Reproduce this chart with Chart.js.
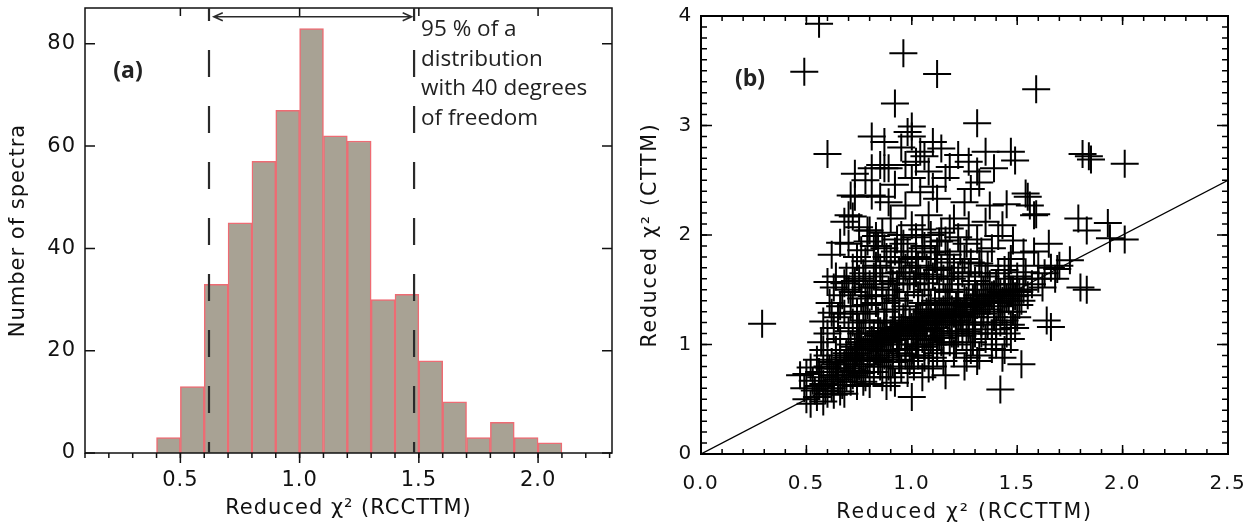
<!DOCTYPE html>
<html>
<head>
<meta charset="utf-8">
<script src="https://cdn.jsdelivr.net/npm/chart.js@4.4.1/dist/chart.umd.min.js"></script>
<style>
  html, body { margin: 0; padding: 0; background: #fff; }
  #wrap { position: relative; width: 1256px; height: 531px; }
  .panel { position: absolute; top: 0; height: 531px; }
  #left { left: 0; width: 630px; }
  #right { left: 630px; width: 626px; }
</style>
</head>
<body>
<div id="wrap">
  <div class="panel" id="left"><canvas id="hist"></canvas></div>
  <div class="panel" id="right"><canvas id="scatter"></canvas></div>
</div>
<script>
// ---------- panel (a): histogram of reduced chi2 (RCCTTM)
const binStarts = [0.4, 0.5, 0.6, 0.7, 0.8, 0.9, 1.0, 1.1, 1.2, 1.3, 1.4, 1.5, 1.6, 1.7, 1.8, 1.9, 2.0];
const binCounts = [3, 13, 33, 45, 57, 67, 83, 62, 61, 30, 31, 18, 10, 3, 6, 3, 2];
const binWidth = 0.1;
const histXTicks = [0.5, 1.0, 1.5, 2.0];
const histYTicks = [0, 20, 40, 60, 80];
const limits95 = [0.62, 1.48];
const arrowSpan = [0.64, 1.47];
const arrowLevel = 85.3;
const noteLines = ['95 % of a', 'distribution', 'with 40 degrees', 'of freedom'];

// ---------- panel (b): reduced chi2 CTTM vs RCCTTM, one [x, y] per spectrum
const fitPairs = [
  // outliers / sparse
  [0.56,3.93],[0.49,3.49],[0.96,3.66],[1.12,3.47],[1.59,3.33],[0.92,3.20],[1.31,3.02],[1.00,2.99],[0.98,2.94],
  [0.60,2.74],[1.81,2.74],[1.85,2.69],[1.84,2.72],[2.01,2.65],[0.29,1.19],[1.83,1.50],[1.80,1.52],[1.42,0.59],
  [1.00,0.52],[1.52,0.82],[1.94,1.97],[2.01,1.96],[1.93,2.11],[1.79,2.15],[1.83,2.04],[1.66,1.16],[1.64,1.22],
  [1.69,1.69],[1.75,1.77],[1.65,1.92],[1.16,0.72],[0.50,0.73],[0.60,1.57],[1.55,2.35],[1.59,2.19],[0.73,2.35],
  [0.85,2.35],[0.73,2.56],[0.87,2.61],[0.72,2.17],[0.80,2.04],[0.82,1.90],
  // upper cloud
  [0.81,2.90],[0.87,2.85],[1.00,2.90],[1.10,2.85],[1.14,2.79],[1.04,2.76],[1.22,2.73],[1.27,2.67],[1.35,2.76],
  [1.47,2.76],[1.39,2.61],[1.49,2.68],[1.31,2.58],[1.32,2.48],[0.81,2.61],[0.89,2.61],[0.85,2.64],[0.97,2.64],
  [1.02,2.67],[1.08,2.58],[1.16,2.52],[1.00,2.52],[0.71,2.36],[0.81,2.36],[1.54,2.38],[1.56,2.27],[1.58,2.18],
  [1.37,2.27],[1.25,2.30],[1.12,2.33],[1.04,2.39],[0.97,2.27],[0.89,2.30],[0.70,2.18],[0.75,2.07],[0.79,2.04],
  [0.83,1.99],[0.68,2.12],[1.08,2.18],[1.20,2.15],[1.27,2.09],[1.43,2.09],[1.31,1.96],[1.41,1.99],[1.14,2.02],
  [1.00,2.09],[0.93,1.96],[1.53,1.84],[1.60,1.72],[1.54,1.66],[1.47,1.78],[1.06,2.72],[0.95,2.80],[1.18,2.62],
  [1.28,2.42],[0.92,2.46],[1.10,2.44],[0.78,2.50],[1.45,2.28],[1.35,2.12],[1.22,1.98],[1.05,2.05],[0.90,2.15],
  [0.66,1.93],[0.62,1.82],[1.48,1.95],[1.58,1.85],[1.38,1.88],
  // dense core, x < 0.65
  [0.47,0.72],[0.50,0.50],[0.52,0.46],[0.55,0.52],[0.58,0.48],[0.49,0.60],[0.53,0.67],[0.56,0.75],[0.60,0.55],
  [0.58,0.64],[0.62,0.60],[0.55,0.86],[0.60,0.90],[0.57,1.02],[0.60,1.10],[0.58,1.21],[0.61,1.38],[0.62,1.29],
  [0.63,1.52],[0.58,0.95],[0.52,0.79],[0.63,0.72],[0.64,0.82],[0.65,0.68],[0.66,0.57],[0.67,0.63],[0.64,0.95],
  [0.66,1.05],[0.63,1.15],[0.65,1.25],[0.67,1.45],[0.64,1.62],[0.66,1.35],[0.54,0.58],[0.61,0.78],[0.68,0.55],
  // 0.65 - 0.8
  [0.68,0.75],[0.70,0.85],[0.72,0.72],[0.69,0.92],[0.71,1.00],[0.73,0.90],[0.74,1.05],[0.70,1.12],[0.72,1.20],
  [0.75,1.15],[0.68,1.28],[0.71,1.35],[0.74,1.30],[0.76,1.42],[0.70,1.50],[0.73,1.58],[0.77,1.65],[0.72,1.70],
  [0.69,1.62],[0.75,0.80],[0.78,0.70],[0.80,0.64],[0.77,0.95],[0.79,1.00],[0.76,1.10],[0.80,1.20],[0.78,1.28],
  [0.79,1.45],[0.80,1.55],[0.78,1.76],[0.76,1.86],[0.80,0.88],[0.74,0.62],[0.71,0.66],[0.73,0.98],[0.77,1.22],
  [0.70,0.78],[0.75,1.02],[0.79,1.36],
  // 0.8 - 1.0
  [0.82,0.75],[0.84,0.85],[0.83,0.95],[0.85,1.00],[0.87,0.90],[0.86,1.08],[0.88,1.15],[0.82,1.10],[0.84,1.22],
  [0.87,1.30],[0.83,1.38],[0.86,1.45],[0.89,1.50],[0.82,1.62],[0.85,1.70],[0.88,1.80],[0.84,1.90],[0.89,0.80],
  [0.90,0.70],[0.92,0.65],[0.91,0.95],[0.93,1.00],[0.90,1.05],[0.94,1.10],[0.92,1.20],[0.95,1.15],[0.96,1.25],
  [0.91,1.32],[0.94,1.40],[0.97,1.35],[0.93,1.55],[0.96,1.60],[0.90,1.65],[0.95,1.75],[0.98,1.85],[0.92,1.85],
  [0.97,0.90],[0.99,0.85],[0.98,1.05],[0.99,1.18],[0.95,0.78],[0.88,0.62],[0.85,1.12],[0.89,1.02],[0.93,1.08],
  [0.87,1.20],[0.91,1.12],[0.97,1.12],[0.84,1.04],[0.81,0.98],[0.86,0.94],[0.94,0.92],[0.92,1.42],[0.88,1.38],
  [0.98,1.48],[0.83,1.52],
  // 1.0 - 1.2
  [1.01,0.80],[1.03,0.90],[1.02,1.00],[1.05,1.05],[1.04,1.12],[1.06,1.20],[1.02,1.25],[1.07,1.30],[1.05,1.38],
  [1.03,1.45],[1.08,1.50],[1.04,1.60],[1.07,1.70],[1.02,1.80],[1.06,1.90],[1.09,2.00],[1.01,1.55],[1.08,0.95],
  [1.10,0.88],[1.12,0.92],[1.10,1.00],[1.13,1.08],[1.11,1.15],[1.14,1.20],[1.12,1.28],[1.15,1.32],[1.11,1.40],
  [1.16,1.42],[1.13,1.50],[1.17,1.55],[1.10,1.62],[1.14,1.70],[1.18,1.75],[1.12,1.85],[1.16,1.95],[1.19,1.60],
  [1.18,1.25],[1.19,1.10],[1.15,0.85],[1.08,0.78],[1.05,0.70],[1.01,1.10],[1.04,1.18],[1.07,1.08],[1.09,1.22],
  [1.06,1.14],[1.03,1.32],[1.09,1.36],[1.12,1.12],[1.15,1.18],[1.17,1.38],[1.00,0.95],[1.06,0.98],[1.14,1.02],
  [1.18,1.48],[1.02,1.65],[1.11,1.78],
  // 1.2 - 1.4
  [1.21,1.00],[1.22,1.10],[1.24,1.20],[1.23,1.30],[1.26,1.35],[1.25,1.42],[1.22,1.50],[1.27,1.55],[1.24,1.65],
  [1.28,1.75],[1.23,1.85],[1.29,1.25],[1.30,1.30],[1.32,1.38],[1.31,1.45],[1.33,1.20],[1.35,1.40],[1.34,1.50],
  [1.36,1.32],[1.38,1.45],[1.37,1.55],[1.39,1.25],[1.33,1.65],[1.36,1.72],[1.30,1.10],[1.28,0.95],[1.26,0.88],
  [1.32,0.90],[1.35,1.05],[1.38,1.10],[1.25,0.80],[1.31,0.85],[1.21,1.22],[1.27,1.18],[1.24,1.28],[1.29,1.38],
  [1.34,1.28],[1.22,1.36],[1.26,1.12],[1.39,1.38],
  // 1.4 - 1.75
  [1.41,1.35],[1.43,1.40],[1.42,1.48],[1.45,1.42],[1.47,1.50],[1.44,1.55],[1.46,1.60],[1.48,1.45],[1.50,1.50],
  [1.42,1.20],[1.45,1.10],[1.47,1.05],[1.44,0.95],[1.49,1.15],[1.40,1.00],[1.43,0.88],[1.52,1.40],[1.55,1.45],
  [1.53,1.60],[1.57,1.55],[1.50,1.25],[1.48,1.30],[1.41,1.65],[1.46,1.72],[1.43,1.30],[1.51,1.36],
  [1.60,1.60],[1.63,1.65],[1.66,1.70],[1.70,1.72],[1.68,1.60],[1.62,1.52],
  // main band along the correlation
  [0.60,0.80],[0.62,0.84],[0.64,0.78],[0.66,0.86],[0.68,0.82],[0.69,0.88],[0.71,0.90],[0.72,0.86],[0.74,0.92],
  [0.76,0.96],[0.77,0.88],[0.78,1.02],[0.80,0.96],[0.81,1.04],[0.83,1.00],[0.84,1.08],[0.86,1.02],[0.87,1.12],
  [0.88,1.06],[0.90,1.10],[0.91,1.04],[0.92,1.14],[0.94,1.16],[0.95,1.08],[0.96,1.18],[0.98,1.12],[0.99,1.22],
  [1.00,1.16],[1.01,1.20],[1.03,1.14],[1.04,1.24],[1.05,1.18],[1.07,1.22],[1.08,1.28],[1.10,1.20],[1.11,1.26],
  [1.13,1.24],[1.14,1.30],[1.16,1.28],[1.17,1.22],[1.19,1.32],[1.20,1.28],[1.21,1.36],[1.23,1.26],[1.25,1.32],
  [1.26,1.40],[1.28,1.34],[1.29,1.42],[1.31,1.36],[1.33,1.42],[1.34,1.38],[1.36,1.44],[1.37,1.40],[1.39,1.46],
  [1.41,1.42],[1.42,1.38],[1.44,1.46],[1.46,1.40],[1.48,1.50],[1.49,1.44],[1.51,1.48],[1.53,1.50],
  // below the band
  [0.62,0.66],[0.65,0.72],[0.69,0.70],[0.73,0.76],[0.76,0.74],[0.79,0.82],[0.82,0.86],[0.85,0.80],[0.88,0.88],
  [0.91,0.84],[0.94,0.86],[0.97,0.96],[1.00,0.90],[1.03,0.98],[1.06,0.88],[1.09,1.04],[1.12,1.00],[1.15,1.06],
  [1.18,1.02],[1.21,1.12],[1.24,1.08],[1.27,1.14],[1.30,1.20],[1.33,1.10],[1.36,1.18],[1.40,1.14],[1.44,1.22],
  [1.47,1.18],[1.38,0.96],[1.29,1.02],[1.20,0.92],[1.10,0.80],[0.98,0.74],[0.86,0.70],[0.77,0.66],[0.57,0.70],
  [0.59,0.58],[0.63,0.54],[0.56,0.62],
  // above the band
  [0.68,1.56],[0.72,1.48],[0.75,1.60],[0.78,1.52],[0.81,1.44],[0.83,1.72],[0.86,1.58],[0.87,1.88],[0.90,1.76],
  [0.91,1.56],[0.94,1.66],[0.96,1.92],[0.97,1.70],[0.99,1.62],[1.00,1.78],[1.03,1.72],[1.05,1.88],[1.06,1.56],
  [1.08,1.64],[1.09,1.84],[1.12,1.68],[1.13,1.94],[1.15,1.60],[1.17,1.82],[1.20,1.70],[1.22,1.62],[1.25,1.78],
  [1.27,1.66],[1.30,1.58],[1.32,1.74],[1.35,1.62],[1.40,1.55],[1.44,1.68],[1.50,1.62],[0.74,1.80],[0.70,1.92],
  [0.79,1.94],[0.86,2.02],[0.95,2.00],[1.02,1.98],[1.18,2.06],[1.26,1.92],[1.33,1.85]
];
const unityLine = [[0, 0], [2.5, 2.5]];
const scatXTicks = [0.0, 0.5, 1.0, 1.5, 2.0, 2.5];
const scatYTicks = [0, 1, 2, 3, 4];

const INK = '#111';
Chart.defaults.font.family = '"DejaVu Sans", sans-serif';
Chart.defaults.color = INK;

// canvas letter spacing (the original uses a widely spaced plot font)
const spacing = px => ({
  id: 'spacing',
  beforeUpdate(chart) { chart.ctx.letterSpacing = px; },
  beforeDraw(chart) { chart.ctx.letterSpacing = px; }
});

function minorSteps(from, to, step) {
  const out = [];
  for (let v = from; v <= to + 1e-9; v += step) out.push(Math.round(v * 100) / 100);
  return out;
}

// draw tick marks on one side of the plot box; len > 0 points outward
function ticks(ctx, area, scale, side, values, len) {
  ctx.beginPath();
  values.forEach(v => {
    const p = scale.getPixelForValue(v);
    if (side === 'bottom') { ctx.moveTo(p, area.bottom); ctx.lineTo(p, area.bottom + len); }
    if (side === 'top') { ctx.moveTo(p, area.top); ctx.lineTo(p, area.top - len); }
    if (side === 'left') { ctx.moveTo(area.left, p); ctx.lineTo(area.left - len, p); }
    if (side === 'right') { ctx.moveTo(area.right, p); ctx.lineTo(area.right + len, p); }
  });
  ctx.stroke();
}

function frame(ctx, area, width) {
  ctx.lineWidth = width;
  ctx.strokeRect(area.left, area.top, area.right - area.left, area.bottom - area.top);
}

const histDecor = {
  id: 'histDecor',
  afterDatasetsDraw(chart) {
    const { ctx, chartArea: a, scales: { x, y } } = chart;
    ctx.save();
    ctx.strokeStyle = INK;
    frame(ctx, a, 1.5);
    ctx.lineWidth = 1.5;
    ticks(ctx, a, x, 'bottom', minorSteps(0.1, 2.3, 0.1), 5);
    ticks(ctx, a, x, 'bottom', histXTicks, 10);
    ticks(ctx, a, x, 'top', histXTicks, -8);
    ticks(ctx, a, y, 'left', histYTicks, -10);
    ticks(ctx, a, y, 'right', histYTicks, -10);

    // 95 % limits
    ctx.strokeStyle = '#2a2a2a';
    ctx.lineWidth = 2.2;
    ctx.setLineDash([27, 29]);
    ctx.lineDashOffset = 14;
    limits95.forEach(v => {
      const p = x.getPixelForValue(v);
      ctx.beginPath(); ctx.moveTo(p, a.top); ctx.lineTo(p, a.bottom); ctx.stroke();
    });
    ctx.setLineDash([]);

    // double arrow
    const x0 = x.getPixelForValue(arrowSpan[0]);
    const x1 = x.getPixelForValue(arrowSpan[1]);
    const ya = y.getPixelForValue(arrowLevel);
    ctx.lineWidth = 1.5;
    ctx.beginPath();
    ctx.moveTo(x0, ya); ctx.lineTo(x1, ya);
    ctx.moveTo(x0 + 9, ya - 4); ctx.lineTo(x0, ya); ctx.lineTo(x0 + 9, ya + 4);
    ctx.moveTo(x1 - 9, ya - 4); ctx.lineTo(x1, ya); ctx.lineTo(x1 - 9, ya + 4);
    ctx.stroke();

    ctx.letterSpacing = '0px';
    ctx.fillStyle = '#222';
    ctx.font = '22.5px "Open Sans", sans-serif';
    ctx.textBaseline = 'middle';
    ctx.textAlign = 'left';
    const tx = x.getPixelForValue(limits95[1]) + 7;
    noteLines.forEach((t, i) => ctx.fillText(t, tx, a.top + 22 + i * 29.5));

    ctx.font = 'bold 23px "Open Sans", sans-serif';
    ctx.textAlign = 'center';
    ctx.fillText('(a)', a.left + 43, a.top + 63);
    ctx.restore();
  }
};

const scatDecor = {
  id: 'scatDecor',
  afterDatasetsDraw(chart) {
    const { ctx, chartArea: a, scales: { x, y } } = chart;
    ctx.save();
    ctx.strokeStyle = '#000';
    frame(ctx, a, 2);
    ctx.lineWidth = 1.5;
    const xm = minorSteps(0, 2.5, 0.1), ym = minorSteps(0, 4, 0.1);
    ticks(ctx, a, x, 'bottom', xm, -5);
    ticks(ctx, a, x, 'top', xm, -5);
    ticks(ctx, a, x, 'bottom', scatXTicks, -9);
    ticks(ctx, a, x, 'top', scatXTicks, -9);
    ticks(ctx, a, y, 'left', ym, -6);
    ticks(ctx, a, y, 'right', ym, -6);
    ticks(ctx, a, y, 'left', scatYTicks, -11);
    ticks(ctx, a, y, 'right', scatYTicks, -11);

    ctx.letterSpacing = '0px';
    ctx.fillStyle = '#222';
    ctx.font = 'bold 23px "Open Sans", sans-serif';
    ctx.textAlign = 'center';
    ctx.textBaseline = 'middle';
    ctx.fillText('(b)', a.left + 49, a.top + 63);
    ctx.restore();
  }
};

new Chart(document.getElementById('hist'), {
  type: 'bar',
  data: {
    datasets: [{
      data: binStarts.map((s, i) => ({ x: s + binWidth / 2, y: binCounts[i] })),
      backgroundColor: '#a8a294',
      borderColor: '#ee6b73',
      borderWidth: 1.5,
      barPercentage: 1,
      categoryPercentage: 1,
      grouped: false
    }]
  },
  options: {
    responsive: true,
    maintainAspectRatio: false,
    animation: false,
    events: [],
    layout: { padding: { top: 8, right: 18, left: 0, bottom: 0 } },
    plugins: { legend: { display: false }, tooltip: { enabled: false } },
    scales: {
      x: {
        type: 'linear', min: 0.1, max: 2.31, offset: false,
        grid: { display: false, drawTicks: false },
        border: { display: false },
        afterBuildTicks: s => { s.ticks = histXTicks.map(v => ({ value: v })); },
        afterFit: s => { s.height = 78; s.paddingLeft = 0; s.paddingRight = 0; },
        ticks: { padding: 15, maxRotation: 0, autoSkip: false, font: { size: 21 }, callback: v => v.toFixed(1) },
        title: { display: true, text: 'Reduced χ² (RCCTTM)', font: { size: 21 }, padding: { top: 0, bottom: 10 } }
      },
      y: {
        min: 0, max: 87,
        grid: { display: false, drawTicks: false },
        border: { display: false },
        afterBuildTicks: s => { s.ticks = histYTicks.map(v => ({ value: v })); },
        afterFit: s => { s.width = 85; s.paddingTop = 0; s.paddingBottom = 0; },
        ticks: { padding: 9, font: { size: 21, lineHeight: 1 } },
        title: { display: true, text: 'Number of spectra', font: { size: 21 }, padding: { top: 6, bottom: 0 } }
      }
    }
  },
  plugins: [spacing('1px'), histDecor]
});

new Chart(document.getElementById('scatter'), {
  type: 'scatter',
  data: {
    datasets: [{
      data: fitPairs.map(([x, y]) => ({ x, y })),
      pointStyle: 'cross',
      pointRadius: 14,
      pointBorderWidth: 2,
      borderColor: '#000',
      backgroundColor: '#000',
      clip: 0
    }, {
      type: 'line',
      data: unityLine.map(([x, y]) => ({ x, y })),
      borderColor: '#000',
      borderWidth: 1.3,
      pointRadius: 0,
      clip: 0
    }]
  },
  options: {
    responsive: true,
    maintainAspectRatio: false,
    animation: false,
    events: [],
    layout: { padding: { top: 10, right: 28, left: 0, bottom: 0 } },
    plugins: { legend: { display: false }, tooltip: { enabled: false } },
    scales: {
      x: {
        type: 'linear', min: 0, max: 2.5,
        grid: { display: false, drawTicks: false },
        border: { display: false },
        afterBuildTicks: s => { s.ticks = scatXTicks.map(v => ({ value: v })); },
        afterFit: s => { s.height = 77; s.paddingLeft = 0; s.paddingRight = 0; },
        ticks: { padding: 18, maxRotation: 0, autoSkip: false, font: { size: 20 }, callback: v => v.toFixed(1) },
        title: { display: true, text: 'Reduced χ² (RCCTTM)', font: { size: 20.5 }, padding: { top: 0, bottom: 6 } }
      },
      y: {
        min: 0, max: 4,
        grid: { display: false, drawTicks: false },
        border: { display: false },
        afterBuildTicks: s => { s.ticks = scatYTicks.map(v => ({ value: v })); },
        afterFit: s => { s.width = 71; s.paddingTop = 0; s.paddingBottom = 0; },
        ticks: { padding: 8, font: { size: 20, lineHeight: 1 } },
        title: { display: true, text: 'Reduced χ² (CTTM)', font: { size: 20.5 }, padding: { top: 8, bottom: 0 } }
      }
    }
  },
  plugins: [spacing('1.8px'), scatDecor]
});
</script>
</body>
</html>
